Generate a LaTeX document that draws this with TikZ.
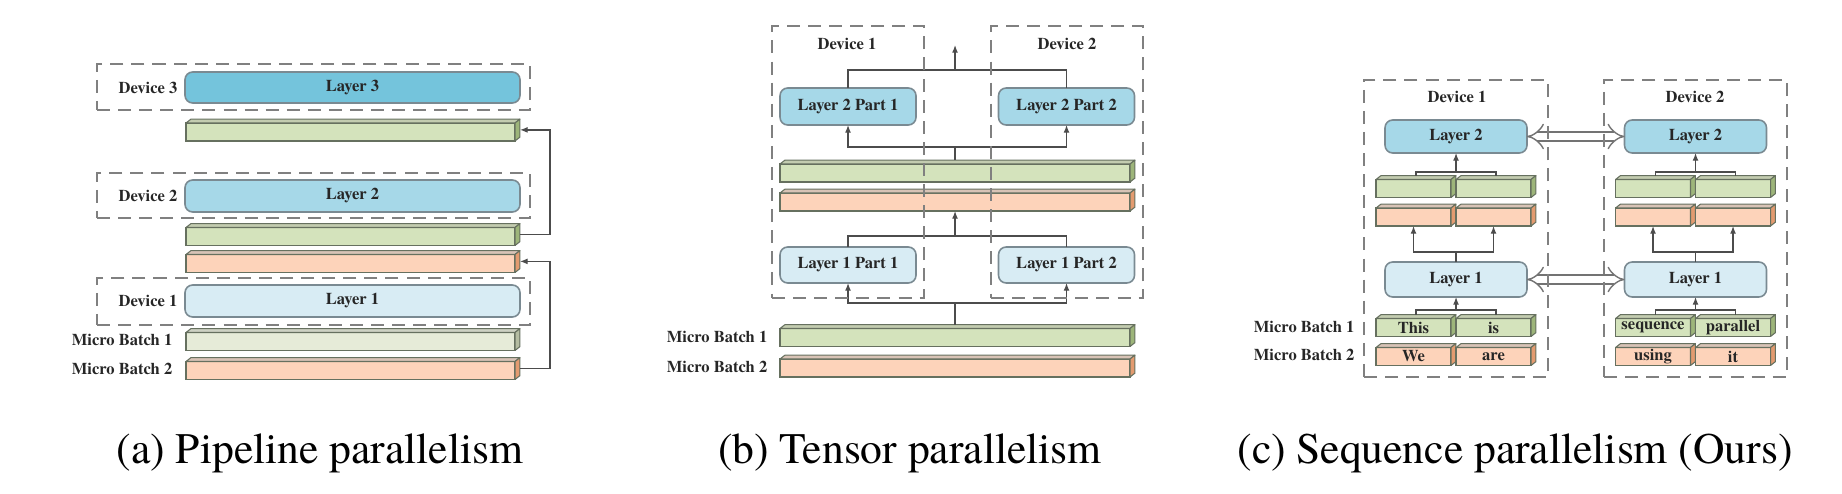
\documentclass[tikz,border=0pt]{standalone}
\usepackage{fontspec}
\setmainfont{texgyretermes}[Extension=.otf, UprightFont=*-regular,
  BoldFont=*-bold, ItalicFont=*-italic, BoldItalicFont=*-bolditalic]
\usepackage{tikz}
\usetikzlibrary{arrows.meta}

\definecolor{lyrdark}{HTML}{74C4DC}
\definecolor{lyrmid}{HTML}{A6D8E8}
\definecolor{lyrlight}{HTML}{D8ECF4}
\definecolor{grnfront}{HTML}{D4E3BC}
\definecolor{grntop}{HTML}{C3CCB0}
\definecolor{grnside}{HTML}{9DB57A}
\definecolor{palefront}{HTML}{E6EBD8}
\definecolor{paletop}{HTML}{CDD1C3}
\definecolor{paleside}{HTML}{B5BDA2}
\definecolor{orgfront}{HTML}{FDD3BA}
\definecolor{orgtop}{HTML}{D8C3B6}
\definecolor{orgside}{HTML}{E39B70}
\definecolor{edgegray}{HTML}{7A8A92}
\definecolor{slabline}{HTML}{66705F}

% 3D token bar: name, x, y, width, colour prefix, text
\newcommand{\slabbar}[6]{%
  \node[slab, minimum width=#4cm, fill=#5front] (#1) at (#2,#3) {#6};
  \filldraw[slabedge, fill=#5top] (#1.north west) -- ++(1.4pt,1.1pt)
    -- ([shift={(1.4pt,1.1pt)}]#1.north east) -- (#1.north east) -- cycle;
  \filldraw[slabedge, fill=#5side] (#1.north east) -- ++(1.4pt,1.1pt)
    -- ([shift={(1.4pt,1.1pt)}]#1.south east) -- (#1.south east) -- cycle;
  \coordinate (#1t) at ([shift={(0.7pt,1.1pt)}]#1.north);
}

\begin{document}
\begin{tikzpicture}[
  x=1cm, y=-1cm,
  font=\fontsize{4.7}{5.6}\selectfont\bfseries,
  lyr/.style={rectangle, draw=edgegray, line width=0.45pt, rounded corners=2.2pt,
              inner sep=0pt, outer sep=0pt, text=black!85},
  slab/.style={rectangle, draw=slabline, line width=0.3pt, inner sep=0pt,
               outer sep=0pt, minimum height=0.18cm, text=black!85},
  slabedge/.style={draw=slabline, line width=0.3pt, line join=round},
  dev/.style={rectangle, draw=black!50, line width=0.45pt,
              dash pattern=on 3.7pt off 2.3pt, inner sep=0pt, outer sep=0pt},
  lbl/.style={text=black!85, inner sep=0pt},
  conn/.style={draw=black!70, line width=0.35pt},
  arr/.style={conn, -{Latex[length=2.2pt,width=1.7pt]}},
  dblarr/.style={draw=black!55, line width=0.4pt, double=white,
                 double distance=2.2pt, {Implies}-{Implies}},
  captxt/.style={font=\fontsize{12.4}{14}\selectfont, anchor=base, inner sep=0pt}
]
\useasboundingbox (0,0) rectangle (18.42,4.94);

% ---------------- (a) Pipeline parallelism ----------------
\node[lyr, fill=lyrdark,  minimum width=3.35cm, minimum height=0.31cm] (pl3) at (3.525,0.875) {Layer 3};
\node[lyr, fill=lyrmid,   minimum width=3.35cm, minimum height=0.32cm] (pl2) at (3.525,1.96) {Layer 2};
\node[lyr, fill=lyrlight, minimum width=3.35cm, minimum height=0.32cm] (pl1) at (3.525,3.01) {Layer 1};

\slabbar{pg1}{3.505}{1.32}{3.29}{grn}{}
\slabbar{pg2}{3.505}{2.365}{3.29}{grn}{}
\slabbar{po1}{3.505}{2.635}{3.29}{org}{}
\slabbar{pm1}{3.505}{3.415}{3.29}{pale}{}
\slabbar{pm2}{3.505}{3.705}{3.29}{org}{}

\node[lbl] (pd3) at (1.48,0.875) {Device 3};
\node[lbl] (pd2) at (1.48,1.96) {Device 2};
\node[lbl] (pd1) at (1.48,3.01) {Device 1};
\node[lbl, anchor=east] (pmb1) at (1.73,3.40) {Micro Batch 1};
\node[lbl, anchor=east] (pmb2) at (1.73,3.69) {Micro Batch 2};

% pass activations upward
\coordinate (pra) at (5.50,1.80);
\coordinate (prb) at (5.50,3.10);
\draw[arr] ([xshift=1.4pt,yshift=0.5pt]pg2.east) -| (pra) |- ([xshift=1.4pt,yshift=0.6pt]pg1.east);
\draw[arr] ([xshift=1.4pt,yshift=0.5pt]pm2.east) -| (prb) |- ([xshift=1.4pt,yshift=0.6pt]po1.east);

\node[dev, minimum width=4.33cm, minimum height=0.46cm] (pdev3) at (3.135,0.87) {};
\node[dev, minimum width=4.33cm, minimum height=0.45cm] (pdev2) at (3.135,1.955) {};
\node[dev, minimum width=4.33cm, minimum height=0.47cm] (pdev1) at (3.135,3.015) {};

% ---------------- (b) Tensor parallelism ----------------
\node[lyr, fill=lyrmid,   minimum width=1.36cm, minimum height=0.37cm] (tl2a) at (8.48,1.065) {Layer 2 Part 1};
\node[lyr, fill=lyrmid,   minimum width=1.36cm, minimum height=0.37cm] (tl2b) at (10.665,1.065) {Layer 2 Part 2};
\node[lyr, fill=lyrlight, minimum width=1.36cm, minimum height=0.36cm] (tl1a) at (8.48,2.65) {Layer 1 Part 1};
\node[lyr, fill=lyrlight, minimum width=1.36cm, minimum height=0.36cm] (tl1b) at (10.665,2.65) {Layer 1 Part 2};

\slabbar{tg}{9.55}{1.73}{3.50}{grn}{}
\slabbar{to}{9.55}{2.02}{3.50}{org}{}
\slabbar{tm1}{9.55}{3.375}{3.50}{grn}{}
\slabbar{tm2}{9.55}{3.68}{3.50}{org}{}

\node[lbl] (td1) at (8.47,0.44) {Device 1};
\node[lbl] (td2) at (10.67,0.44) {Device 2};
\node[lbl, anchor=east] (tmb1) at (7.68,3.37) {Micro Batch 1};
\node[lbl, anchor=east] (tmb2) at (7.68,3.67) {Micro Batch 2};

% split and gather
\coordinate (tj3) at (9.55,0.70);
\coordinate (tout) at (9.55,0.45);
\coordinate (tj2) at (9.55,1.47);
\coordinate (tj1) at (9.55,2.36);
\coordinate (tj0) at (9.55,3.03);
\draw[conn] (tl2a.north) |- (tj3) -| (tl2b.north);
\draw[arr] (tj3) -- (tout);
\draw[conn] (tj2) -- (tj2 |- tgt);
\draw[arr] (tj2) -| (tl2a.south);
\draw[arr] (tj2) -| (tl2b.south);
\draw[conn] (tl1a.north) |- (tj1) -| (tl1b.north);
\draw[arr] (tj1) -- (tj1 |- to.south);
\draw[conn] (tj0) -- (tj0 |- tm1t);
\draw[arr] (tj0) -| (tl1a.south);
\draw[arr] (tj0) -| (tl1b.south);

\node[dev, minimum width=1.52cm, minimum height=2.72cm] (tdev1) at (8.48,1.62) {};
\node[dev, minimum width=1.52cm, minimum height=2.72cm] (tdev2) at (10.67,1.62) {};

% ---------------- (c) Sequence parallelism ----------------
\node[lyr, fill=lyrmid,   minimum width=1.42cm, minimum height=0.33cm] (sl2a) at (14.56,1.365) {Layer 2};
\node[lyr, fill=lyrmid,   minimum width=1.42cm, minimum height=0.33cm] (sl2b) at (16.955,1.365) {Layer 2};
\node[lyr, fill=lyrlight, minimum width=1.42cm, minimum height=0.35cm] (sl1a) at (14.56,2.795) {Layer 1};
\node[lyr, fill=lyrlight, minimum width=1.42cm, minimum height=0.35cm] (sl1b) at (16.955,2.795) {Layer 1};

% device 1 tokens
\slabbar{sga1}{14.135}{1.885}{0.75}{grn}{}
\slabbar{sgb1}{14.935}{1.885}{0.75}{grn}{}
\slabbar{soa1}{14.135}{2.17}{0.75}{org}{}
\slabbar{sob1}{14.935}{2.17}{0.75}{org}{}
\slabbar{sma1}{14.135}{3.275}{0.75}{grn}{This}
\slabbar{smb1}{14.935}{3.275}{0.75}{grn}{is}
\slabbar{sna1}{14.135}{3.565}{0.75}{org}{We}
\slabbar{snb1}{14.935}{3.565}{0.75}{org}{are}
% device 2 tokens
\slabbar{sga2}{16.53}{1.885}{0.75}{grn}{}
\slabbar{sgb2}{17.33}{1.885}{0.75}{grn}{}
\slabbar{soa2}{16.53}{2.17}{0.75}{org}{}
\slabbar{sob2}{17.33}{2.17}{0.75}{org}{}
\slabbar{sma2}{16.53}{3.275}{0.75}{grn}{sequence}
\slabbar{smb2}{17.33}{3.275}{0.75}{grn}{parallel}
\slabbar{sna2}{16.53}{3.565}{0.75}{org}{using}
\slabbar{snb2}{17.33}{3.565}{0.75}{org}{it}

\node[lbl] (sd1) at (14.57,0.97) {Device 1};
\node[lbl] (sd2) at (16.95,0.97) {Device 2};
\node[lbl, anchor=east] (smb1) at (13.55,3.27) {Micro Batch 1};
\node[lbl, anchor=east] (smb2) at (13.55,3.55) {Micro Batch 2};

% device 1 flow
\coordinate (sj2a) at (14.56,1.72);
\coordinate (sj1a) at (14.56,2.52);
\coordinate (sj0a) at (14.56,3.10);
\draw[conn] (sga1t) |- (sj2a) -| (sgb1t);
\draw[arr] (sj2a) -- (sl2a.south);
\draw[conn] (sl1a.north) -- (sj1a);
\draw[arr] (sj1a) -| (soa1.south);
\draw[arr] (sj1a) -| (sob1.south);
\draw[conn] (sma1t) |- (sj0a) -| (smb1t);
\draw[arr] (sj0a) -- (sl1a.south);
% device 2 flow
\coordinate (sj2b) at (16.955,1.72);
\coordinate (sj1b) at (16.955,2.52);
\coordinate (sj0b) at (16.955,3.10);
\draw[conn] (sga2t) |- (sj2b) -| (sgb2t);
\draw[arr] (sj2b) -- (sl2b.south);
\draw[conn] (sl1b.north) -- (sj1b);
\draw[arr] (sj1b) -| (soa2.south);
\draw[arr] (sj1b) -| (sob2.south);
\draw[conn] (sma2t) |- (sj0b) -| (smb2t);
\draw[arr] (sj0b) -- (sl1b.south);

% exchange between devices
\draw[dblarr] (sl2a.east) -- (sl2b.west);
\draw[dblarr] (sl1a.east) -- (sl1b.west);

\node[dev, minimum width=1.84cm, minimum height=2.97cm] (sdev1) at (14.56,2.285) {};
\node[dev, minimum width=1.83cm, minimum height=2.97cm] (sdev2) at (16.955,2.285) {};

% ---------------- captions ----------------
\node[captxt] (capa) at (3.20,4.63) {(a) Pipeline parallelism};
\node[captxt] (capb) at (9.10,4.63) {(b) Tensor parallelism};
\node[captxt] (capc) at (15.15,4.63) {(c) Sequence parallelism (Ours)};

\end{tikzpicture}
\end{document}
